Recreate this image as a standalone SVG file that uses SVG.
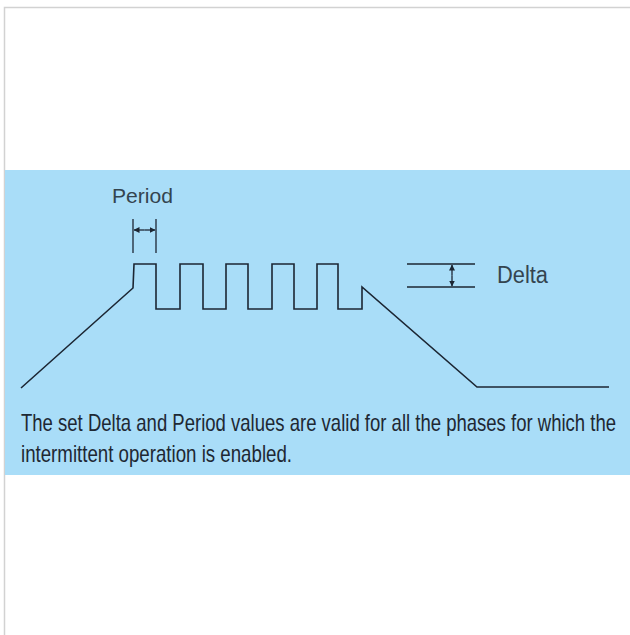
<svg xmlns="http://www.w3.org/2000/svg" width="630" height="635" viewBox="0 0 630 635">
<defs>
<style>
.wave{fill:none;stroke:#1c2633;stroke-width:1.6;stroke-linejoin:miter}
.thin{fill:none;stroke:#1c2633;stroke-width:1.3}
.lbl{font-family:"Liberation Sans",Arial,sans-serif;fill:#34444f}
.cap{font-family:"Liberation Sans Narrow","Liberation Sans",Arial,sans-serif;font-size:24px;fill:#1e2833}
</style>
<marker id="ah" markerWidth="6" markerHeight="6" refX="5.5" refY="3" orient="auto" markerUnits="userSpaceOnUse">
<path d="M0,0 L6,3 L0,6 Z" fill="#1c2633"/>
</marker>
</defs>
<rect x="0" y="0" width="630" height="635" fill="#ffffff"/>
<path d="M4.5,635 V7.5 H630" fill="none" stroke="#d2d2d2" stroke-width="1.5"/>
<rect x="5" y="170" width="625" height="305" fill="#a9ddf8"/>
<g id="waveform">
<path class="wave" d="M21,388 L133,288 L134,264 H156 V309 H180 V264 H203 V309 H226 V264 H248 V309 H272 V264 H294 V309 H317 V264 H338 V309 H362 V287 L477,387 H609"/>
</g>
<g id="period">
<text class="lbl" x="112" y="203" font-size="21" textLength="61" lengthAdjust="spacingAndGlyphs">Period</text>
<line class="thin" x1="133" y1="219" x2="133" y2="253"/>
<line class="thin" x1="156" y1="219" x2="156" y2="253"/>
<line class="thin" x1="144.5" y1="230" x2="134" y2="230" marker-end="url(#ah)"/>
<line class="thin" x1="144.5" y1="230" x2="155" y2="230" marker-end="url(#ah)"/>
</g>
<g id="delta">
<line class="thin" x1="407" y1="264" x2="475" y2="264"/>
<line class="thin" x1="407" y1="287" x2="475" y2="287"/>
<line class="thin" x1="452" y1="275.5" x2="452" y2="265" marker-end="url(#ah)"/>
<line class="thin" x1="452" y1="275.5" x2="452" y2="286" marker-end="url(#ah)"/>
<text class="lbl" x="497" y="283" font-size="23" textLength="51" lengthAdjust="spacingAndGlyphs">Delta</text>
</g>
<g id="caption">
<text class="cap" x="21" y="431" textLength="595" lengthAdjust="spacingAndGlyphs">The set Delta and Period values are valid for all the phases for which the</text>
<text class="cap" x="21" y="462" textLength="271" lengthAdjust="spacingAndGlyphs">intermittent operation is enabled.</text>
</g>
</svg>
